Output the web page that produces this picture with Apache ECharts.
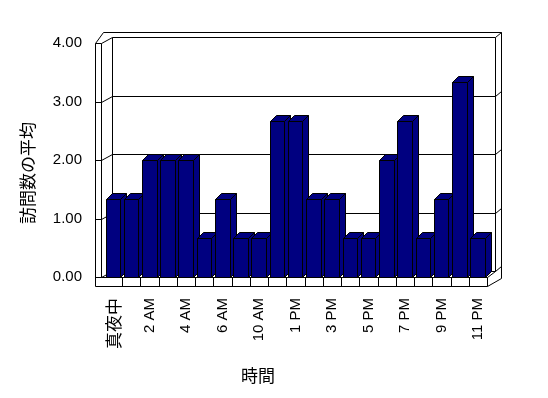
<!DOCTYPE html>
<html>
<head>
<meta charset="utf-8">
<script src="https://cdn.jsdelivr.net/npm/echarts@6/dist/echarts.min.js"></script>
<style>
html,body{margin:0;padding:0;background:#fff;}
#main{width:548px;height:398px;}
</style>
</head>
<body>
<div id="main"></div>
<script>
const hours = ['真夜中','1 AM','2 AM','3 AM','4 AM','5 AM','6 AM','9 AM','10 AM','11 AM','1 PM',
    '2 PM','3 PM','4 PM','5 PM','6 PM','7 PM','8 PM','9 PM','10 PM','11 PM'];
const visits = [1.33,1.33,2,2,2,0.67,1.33,0.67,0.67,2.67,2.67,
    1.33,1.33,0.67,0.67,2,2.67,0.67,1.33,3.33,0.67];
const yTicks = [0,1,2,3,4];

const LAT = '"Liberation Sans", "Noto Sans CJK JP", sans-serif';
const JP = '"Noto Sans CJK JP", sans-serif';
const navy = '#000080';

function p(v){ return Math.round(v)+0.5; }
function line(x1,y1,x2,y2){
    return {type:'line', shape:{x1:p(x1),y1:p(y1),x2:p(x2),y2:p(y2)},
        style:{stroke:'#000',lineWidth:1,fill:null}};
}
function poly(pts){
    return {type:'polygon', shape:{points:pts.map(q=>[p(q[0]),p(q[1])])},
        style:{fill:navy,stroke:'#000',lineWidth:1}};
}

// walls, floor and gridlines (3D look)
function renderFrame(params, api){
    const n = hours.length;
    const c0 = api.coord([0,0]);
    const bw = api.size([1,0])[0];
    const L = c0[0]-bw/2;
    const R = api.coord([n-1,0])[0]+bw/2;
    const Y0 = c0[1];
    const Y4 = api.coord([0,yTicks[yTicks.length-1]])[1];
    const ch = [];
    ch.push({type:'rect', shape:{x:L+8,y:Y4-6,width:R-L,height:Y0-Y4}, style:{fill:'#fff'}});
    for (const v of yTicks) {
        const yf = api.coord([0,v])[1];
        const yb = yf-6;
        ch.push(line(L+8,yb,R+8,yb));
        ch.push(line(L-3,yf,L+8,yb));
        ch.push(line(L-9,yf,L-3,yf));
        ch.push(line(R+8,yb,R+14,yb-5));
    }
    ch.push(line(R+8,Y4-6,R+8,Y0-6));
    ch.push(line(L+8,Y4-6,L+8,Y0-6));
    ch.push(line(L-1,Y4-11,R+14,Y4-11));
    ch.push(line(L-9,Y4,L-1,Y4-11));
    ch.push(line(R+14,Y4-11,R+14,Y0+1));
    ch.push(line(L-9,Y4,L-9,Y0+9));
    ch.push(line(L-3,Y4,L-3,Y0));
    ch.push(line(L-3,Y0,R,Y0));
    ch.push(line(L-9,Y0+9,R,Y0+9));
    ch.push(line(R,Y0,R,Y0+9));
    ch.push(line(R,Y0,R+8,Y0-6));
    ch.push(line(R,Y0+9,R+14,Y0+1));
    for (let i=1;i<n;i++) {
        const x = L+i*bw;
        ch.push(line(x,Y0,x,Y0+9));
    }
    return {type:'group', children:ch};
}

function renderBar(params, api){
    const c = api.coord([api.value(0),api.value(1)]);
    const y0 = api.coord([api.value(0),0])[1];
    const bw = api.size([1,0])[0];
    const x0 = c[0]-bw/2+1.5;
    const x1 = x0+bw*0.8;
    const yt = c[1];
    const d = 6;
    return {type:'group', children:[
        poly([[x0,yt],[x1,yt],[x1,y0],[x0,y0]]),
        poly([[x0,yt],[x1,yt],[x1+d,yt-d],[x0+d,yt-d]]),
        poly([[x1,yt],[x1+d,yt-d],[x1+d,y0-d],[x1,y0]])
    ]};
}

let option = {
    animation:false,
    backgroundColor:'#fff',
    grid:{left:104,right:61,top:43,bottom:121},
    xAxis:{
        type:'category',
        data:hours,
        axisLine:{show:false},
        axisTick:{show:false},
        splitLine:{show:false},
        axisLabel:{
            interval:1,
            rotate:90,
            margin:21,
            color:'#000',
            fontSize:15,
            fontFamily:LAT,
            formatter:function(v){ return /[A-Z]/.test(v) ? v : '{j|'+v+'}'; },
            rich:{j:{fontSize:17,fontFamily:JP,color:'#000'}}
        }
    },
    yAxis:{
        type:'value',
        min:0,
        max:4,
        interval:1,
        axisLine:{show:false},
        axisTick:{show:false},
        splitLine:{show:false},
        axisLabel:{
            margin:22,
            color:'#000',
            fontSize:15,
            fontFamily:LAT,
            formatter:function(v){ return v.toFixed(2); }
        }
    },
    graphic:[
        {type:'text', x:28, y:173, rotation:Math.PI/2,
            style:{text:'訪問数の平均', fontSize:17, fontFamily:JP, fill:'#000', align:'center', verticalAlign:'middle'}},
        {type:'text', x:258, y:376,
            style:{text:'時間', fontSize:17, fontFamily:JP, fill:'#000', align:'center', verticalAlign:'middle'}}
    ],
    series:[
        {type:'custom', z:1, silent:true, clip:false, renderItem:renderFrame, data:[[0,0]]},
        {type:'custom', z:2, clip:false, renderItem:renderBar,
            data:visits.map((v,i)=>[i,v])}
    ]
};

let myChart = echarts.init(document.getElementById('main'));
myChart.setOption(option);
</script>
</body>
</html>
